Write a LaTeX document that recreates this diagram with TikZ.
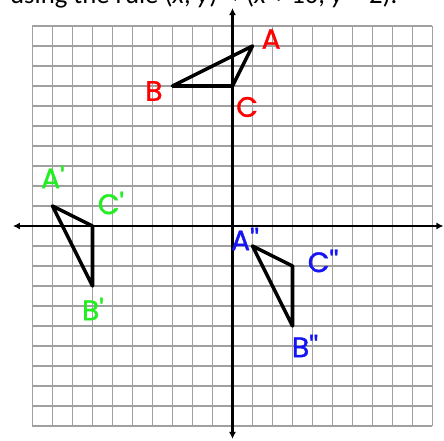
\documentclass[tikz,border=0pt]{standalone}
\usepackage{fontspec}
\usetikzlibrary{arrows.meta}
\newfontfamily\labfont{Poppins}[FakeBold=1.3]
\newfontfamily\headfont{Carlito}
\newfontfamily\symfont{DejaVu Sans}
\definecolor{labred}{RGB}{255,0,0}
\definecolor{labgreen}{RGB}{34,238,34}
\definecolor{labblue}{RGB}{20,20,245}
\definecolor{gridgray}{RGB}{160,160,160}
\begin{document}
\begin{tikzpicture}[x=0.5cm,y=0.5cm,
  gridline/.style={draw=gridgray,line width=1.3pt},
  axisline/.style={draw=black,line width=2pt,-{Latex[length=5pt,width=5pt]}},
  tri/.style={draw=black,line width=2.5pt,line join=round,line cap=round},
  lab/.style={font=\labfont\fontsize{20}{24}\selectfont,inner sep=0pt}]
\useasboundingbox[fill=white] (-11.625,-10.75) rectangle (10.575,11.3);
\begin{scope}
\clip (-11.625,-10.75) rectangle (10.575,11.3);
\node[font=\headfont\fontsize{19}{23}\selectfont,anchor=base west,inner sep=0pt] (head) at (-11.13,11.1) {using the rule (\textit{x}, \textit{y}) {\symfont\fontsize{14}{16}\selectfont →} (\textit{x} + 10, \textit{y} − 2).};
\end{scope}
\draw[gridline,step=0.5cm] (-10,-10) grid (10,10);
\coordinate (xl) at (-10.98,0);
\coordinate (xr) at (10.55,0);
\coordinate (yt) at (0,10.9);
\coordinate (yb) at (0,-10.65);
\draw[axisline] (0,0) -- (xl);
\draw[axisline] (0,0) -- (xr);
\draw[axisline] (0,0) -- (yt);
\draw[axisline] (0,0) -- (yb);
% original triangle
\coordinate (A) at (1,9);
\coordinate (B) at (-3,7);
\coordinate (C) at (0,7);
\draw[tri] (A) -- (B) -- (C) -- cycle;
% rotated
\coordinate (A1) at (-9,1);
\coordinate (B1) at (-7,-3);
\coordinate (C1) at (-7,0);
\draw[tri] (A1) -- (B1) -- (C1) -- cycle;
% translated
\coordinate (A2) at (1,-1);
\coordinate (B2) at (3,-5);
\coordinate (C2) at (3,-2);
\draw[tri] (A2) -- (B2) -- (C2) -- cycle;
% labels
\node[lab,text=labred] (lA) at (1.93,9.35) {A};
\node[lab,text=labred] (lB) at (-3.93,6.75) {B};
\node[lab,text=labred] (lC) at (0.73,5.95) {C};
\node[lab,text=labgreen] (lA1) at (-8.98,2.45) {A'};
\node[lab,text=labgreen] (lC1) at (-6.08,1.15) {C'};
\node[lab,text=labgreen] (lB1) at (-6.98,-4.15) {B'};
\node[lab,text=labblue] (lA2) at (0.63,-0.65) {A''};
\node[lab,text=labblue] (lC2) at (4.53,-1.75) {C''};
\node[lab,text=labblue] (lB2) at (3.63,-6.0) {B''};
\end{tikzpicture}
\end{document}
